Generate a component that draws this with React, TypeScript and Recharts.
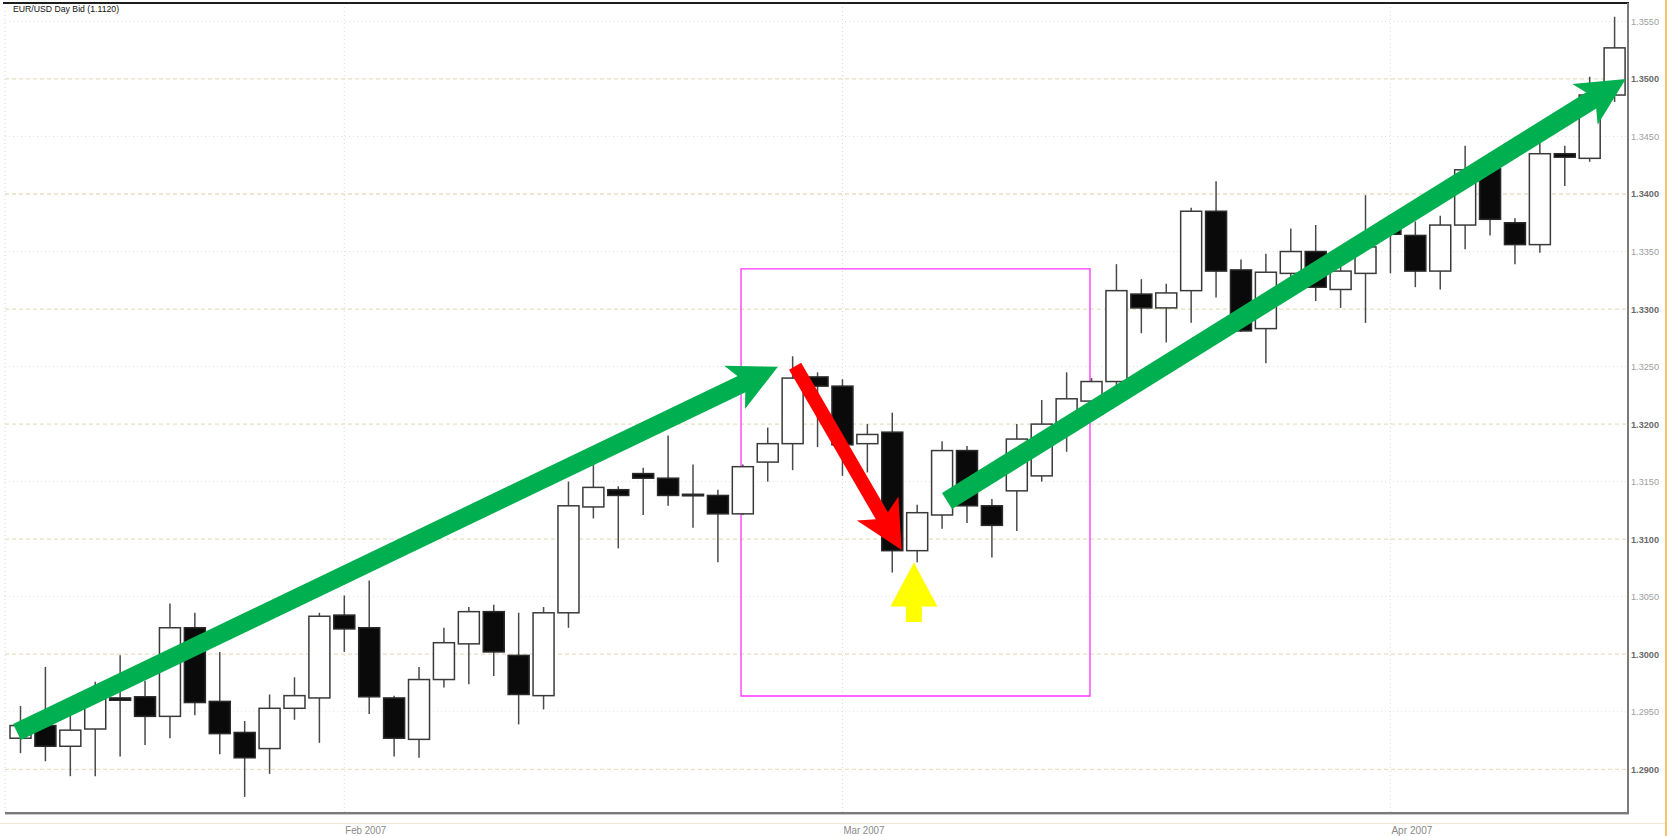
import React from 'react';
import { ComposedChart, Bar, XAxis, YAxis, CartesianGrid, ReferenceLine, ReferenceArea } from 'recharts';

const dates = [
  '2007-01-15','2007-01-16','2007-01-17','2007-01-18','2007-01-19','2007-01-22','2007-01-23','2007-01-24','2007-01-25','2007-01-26','2007-01-29','2007-01-30','2007-01-31',
  '2007-02-01','2007-02-02','2007-02-05','2007-02-06','2007-02-07','2007-02-08','2007-02-09','2007-02-12','2007-02-13','2007-02-14','2007-02-15','2007-02-16','2007-02-19','2007-02-20','2007-02-21','2007-02-22','2007-02-23','2007-02-26','2007-02-27','2007-02-28',
  '2007-03-01','2007-03-02','2007-03-05','2007-03-06','2007-03-07','2007-03-08','2007-03-09','2007-03-12','2007-03-13','2007-03-14','2007-03-15','2007-03-16','2007-03-19','2007-03-20','2007-03-21','2007-03-22','2007-03-23','2007-03-26','2007-03-27','2007-03-28','2007-03-29','2007-03-30',
  '2007-04-02','2007-04-03','2007-04-04','2007-04-05','2007-04-06','2007-04-09','2007-04-10','2007-04-11','2007-04-12','2007-04-13',
];

const opens = [
  1.2927, 1.2938, 1.2920, 1.2935, 1.2962, 1.2963, 1.2946, 1.3023, 1.2959, 1.2932, 1.2918, 1.2953, 1.2962,
  1.3034, 1.3023, 1.2962, 1.2926, 1.2978, 1.3009, 1.3037, 1.2999, 1.2964, 1.3036, 1.3128, 1.3143, 1.3157, 1.3153, 1.3139, 1.3138, 1.3122, 1.3167, 1.3183, 1.3241,
  1.3233, 1.3183, 1.3193, 1.3090, 1.3121, 1.3177, 1.3129, 1.3142, 1.3155, 1.3201, 1.3220, 1.3237, 1.3313, 1.3301, 1.3316, 1.3385, 1.3334, 1.3283, 1.3331, 1.3350, 1.3317, 1.3331,
  1.3376, 1.3364, 1.3333, 1.3373, 1.3422, 1.3375, 1.3356, 1.3435, 1.3431, 1.3486,
];
const highs = [
  1.2955, 1.2989, 1.2948, 1.2976, 1.2999, 1.2977, 1.3044, 1.3036, 1.3002, 1.2942, 1.2965, 1.2980, 1.3036,
  1.3051, 1.3064, 1.2964, 1.2989, 1.3023, 1.3041, 1.3043, 1.3036, 1.3041, 1.3150, 1.3165, 1.3146, 1.3162, 1.3190, 1.3165, 1.3143, 1.3165, 1.3197, 1.3259, 1.3245,
  1.3239, 1.3200, 1.3210, 1.3130, 1.3185, 1.3181, 1.3135, 1.3200, 1.3221, 1.3245, 1.3240, 1.3339, 1.3326, 1.3322, 1.3388, 1.3411, 1.3343, 1.3348, 1.3370, 1.3373, 1.3345, 1.3399,
  1.3381, 1.3376, 1.3381, 1.3442, 1.3435, 1.3379, 1.3450, 1.3442, 1.3502, 1.3554,
];
const lows = [
  1.2914, 1.2907, 1.2894, 1.2894, 1.2911, 1.2921, 1.2927, 1.2947, 1.2913, 1.2876, 1.2896, 1.2943, 1.2923,
  1.3002, 1.2948, 1.2911, 1.2910, 1.2971, 1.2974, 1.2981, 1.2939, 1.2952, 1.3023, 1.3118, 1.3092, 1.3121, 1.3129, 1.3110, 1.3080, 1.3121, 1.3150, 1.3160, 1.3180,
  1.3155, 1.3158, 1.3071, 1.3080, 1.3109, 1.3114, 1.3084, 1.3107, 1.3150, 1.3176, 1.3218, 1.3231, 1.3279, 1.3271, 1.3288, 1.3310, 1.3280, 1.3253, 1.3320, 1.3307, 1.3301, 1.3288,
  1.3331, 1.3319, 1.3317, 1.3352, 1.3364, 1.3339, 1.3349, 1.3407, 1.3428, 1.3480,
];
const closes = [
  1.2938, 1.2920, 1.2934, 1.2961, 1.2960, 1.2946, 1.3023, 1.2958, 1.2931, 1.2910, 1.2953, 1.2964, 1.3033,
  1.3022, 1.2963, 1.2927, 1.2978, 1.3010, 1.3037, 1.3002, 1.2965, 1.3036, 1.3129, 1.3145, 1.3138, 1.3153, 1.3138, 1.3138, 1.3122, 1.3163, 1.3183, 1.3240, 1.3233,
  1.3182, 1.3191, 1.3090, 1.3123, 1.3177, 1.3129, 1.3112, 1.3187, 1.3200, 1.3222, 1.3237, 1.3316, 1.3301, 1.3314, 1.3385, 1.3333, 1.3281, 1.3332, 1.3350, 1.3319, 1.3333, 1.3354,
  1.3365, 1.3333, 1.3373, 1.3421, 1.3378, 1.3356, 1.3435, 1.3432, 1.3486, 1.3527,
];

const monthTicks = ['2007-02-01', '2007-03-01', '2007-04-02'];
const monthLabels = ['Feb 2007', 'Mar 2007', 'Apr 2007'];
const priceTicks = [1.29, 1.295, 1.3, 1.305, 1.31, 1.315, 1.32, 1.325, 1.33, 1.335, 1.34, 1.345, 1.35, 1.355];
const majorTicks = [1.29, 1.3, 1.31, 1.32, 1.33, 1.34, 1.35];
const minorTicks = [1.295, 1.305, 1.315, 1.325, 1.335, 1.345, 1.355];
const priceDomain = [1.2862, 1.3566];

// annotations in data units: [index, price]
const greenArrow1 = [[-0.14, 1.29324], [30.41, 1.32499]];
const redArrow = [[31.1, 1.32503], [35.38, 1.30906]];
const greenArrow2 = [[37.2, 1.31332], [64.45, 1.35]];
const yellowArrow = [[35.87, 1.3028], [35.87, 1.30797]];
const boxX = [28.93, 42.94];
const boxY = [1.29637, 1.33349];

const title = 'EUR/USD Day Bid (1.1120)';

const data = dates.map((d, i) => ({
  date: d,
  idx: i,
  open: opens[i],
  high: highs[i],
  low: lows[i],
  close: closes[i],
}));

const SANS = "'Liberation Sans', Arial, sans-serif";

const CandleShape = (props: any) => {
  const { x, y, width, height, payload } = props;
  if (!payload || height == null || isNaN(y)) return null;
  const { open, close, high, low } = payload;
  const k = height / (high - low);
  const py = (v: number) => y + (high - v) * k;
  const cx = x + width / 2;
  const top = py(Math.max(open, close));
  const bot = py(Math.min(open, close));
  const bull = close > open;
  return (
    <g>
      <line x1={cx} x2={cx} y1={py(high)} y2={py(low)} stroke="#4a4a4a" strokeWidth={1.5} />
      <rect
        x={x}
        y={top}
        width={width}
        height={Math.max(bot - top, 1.5)}
        fill={bull ? '#ffffff' : '#0a0a0a'}
        stroke={bull ? '#3a3a3a' : '#2a2a2a'}
        strokeWidth={1.5}
      />
    </g>
  );
};

const makeArrow = (color: string, shaft: number, L: number, W: number, N: number) => (p: any) => {
  const { x1, y1, x2, y2 } = p;
  if ([x1, y1, x2, y2].some((v) => v == null || isNaN(v))) return <g />;
  const dx = x2 - x1;
  const dy = y2 - y1;
  const len = Math.hypot(dx, dy);
  const ux = dx / len;
  const uy = dy / len;
  const nx = -uy;
  const ny = ux;
  const bx = x2 - ux * L;
  const by = y2 - uy * L;
  const pts = [
    [x2, y2],
    [bx + nx * W, by + ny * W],
    [x2 - ux * N, y2 - uy * N],
    [bx - nx * W, by - ny * W],
  ]
    .map((q) => q.join(','))
    .join(' ');
  const ex = x2 - ux * (L * 0.55);
  const ey = y2 - uy * (L * 0.55);
  return (
    <g>
      <line x1={x1} y1={y1} x2={ex} y2={ey} stroke={color} strokeWidth={shaft} strokeLinecap="butt" />
      <polygon points={pts} fill={color} />
    </g>
  );
};

const YTick = (props: any) => {
  const { x, y, payload } = props;
  const v = payload.value as number;
  const major = majorTicks.some((m) => Math.abs(m - v) < 1e-7);
  return (
    <text
      x={x}
      y={y}
      dy={3.5}
      fontSize={9.6}
      fontFamily={SANS}
      fill={major ? '#6a6a6a' : '#a0a0a0'}
      fontWeight={major ? 700 : 400}
      textAnchor="start"
      textLength={28}
      lengthAdjust="spacingAndGlyphs"
    >
      {v.toFixed(4)}
    </text>
  );
};

const XTick = (props: any) => {
  const { x, y, payload } = props;
  const i = monthTicks.indexOf(payload.value);
  if (i < 0) return null;
  return (
    <text
      x={x + 1}
      y={y}
      dy={20.5}
      fontSize={10}
      fontFamily={SANS}
      fill="#8a8a8a"
      textAnchor="start"
      textLength={41}
      lengthAdjust="spacingAndGlyphs"
    >
      {monthLabels[i]}
    </text>
  );
};

const GREEN = '#00b050';

export default function App() {
  return (
    <div style={{ position: 'absolute', left: 0, top: 0, width: 1679, height: 836, background: '#fff' }}>
      <ComposedChart width={1679} height={836} data={data} margin={{ top: 3, right: 0, bottom: 0, left: 5 }}>
        <CartesianGrid vertical={true} horizontal={false} stroke="#d9d9d9" strokeDasharray="1 3" />
        <CartesianGrid yAxisId="maj" vertical={false} horizontal={true} stroke="#e6dfc4" strokeWidth={1.3} strokeDasharray="4 3" />
        <CartesianGrid yAxisId="min" vertical={false} horizontal={true} stroke="#e2e2dc" strokeDasharray="1 3" />
        <XAxis
          dataKey="date"
          type="category"
          ticks={monthTicks}
          interval={0}
          tick={<XTick />}
          tickSize={0}
          tickMargin={0}
          axisLine={false}
          tickLine={false}
          height={23}
          padding={{ left: 3, right: 1 }}
        />
        <XAxis xAxisId="n" dataKey="idx" type="number" domain={[-0.5, 64.5]} allowDataOverflow hide padding={{ left: 3, right: 1 }} />
        <YAxis
          orientation="right"
          domain={priceDomain}
          allowDataOverflow
          ticks={priceTicks}
          interval={0}
          width={51}
          tick={<YTick />}
          tickSize={0}
          tickMargin={3}
          axisLine={false}
          tickLine={false}
        />
        <YAxis yAxisId="maj" orientation="right" domain={priceDomain} allowDataOverflow ticks={majorTicks} interval={0} hide />
        <YAxis yAxisId="min" orientation="right" domain={priceDomain} allowDataOverflow ticks={minorTicks} interval={0} hide />
        <Bar
          dataKey={(d: any) => [d.low, d.high]}
          barSize={21}
          shape={<CandleShape />}
          isAnimationActive={false}
        />
        <ReferenceArea
          xAxisId="n"
          x1={boxX[0]}
          x2={boxX[1]}
          y1={boxY[0]}
          y2={boxY[1]}
          fill="none"
          fillOpacity={0}
          stroke="#ff33ff"
          strokeWidth={1.3}
        />
        <ReferenceLine
          xAxisId="n"
          segment={[{ x: greenArrow1[0][0], y: greenArrow1[0][1] }, { x: greenArrow1[1][0], y: greenArrow1[1][1] }]}
          shape={makeArrow(GREEN, 18, 48, 24, 36)}
        />
        <ReferenceLine
          xAxisId="n"
          segment={[{ x: redArrow[0][0], y: redArrow[0][1] }, { x: redArrow[1][0], y: redArrow[1][1] }]}
          shape={makeArrow('#ff0000', 14, 48, 24, 36)}
        />
        <ReferenceLine
          xAxisId="n"
          segment={[{ x: greenArrow2[0][0], y: greenArrow2[0][1] }, { x: greenArrow2[1][0], y: greenArrow2[1][1] }]}
          shape={makeArrow(GREEN, 19, 48, 24, 36)}
        />
        <ReferenceLine
          xAxisId="n"
          segment={[{ x: yellowArrow[0][0], y: yellowArrow[0][1] }, { x: yellowArrow[1][0], y: yellowArrow[1][1] }]}
          shape={makeArrow('#ffff00', 16, 44, 23.5, 44)}
        />
      </ComposedChart>
      <div style={{ position: 'absolute', left: 3, top: 2, width: 1626, height: 1.5, background: '#1e1e1e' }} />
      <div style={{ position: 'absolute', left: 1627, top: 3, width: 2, height: 811, background: '#7a7a7a' }} />
      <div style={{ position: 'absolute', left: 5, top: 812, width: 1624, height: 2, background: '#7a7a7a' }} />
      <div style={{ position: 'absolute', left: 5, top: 814, width: 1624, height: 1, background: '#c8c8c8' }} />
      <div style={{ position: 'absolute', left: 0, top: 823, width: 1665, height: 1, background: '#efe9d6' }} />
      <div style={{ position: 'absolute', left: 1665, top: 0, width: 1.5, height: 836, background: '#f6c46a' }} />
      <div
        style={{
          position: 'absolute',
          left: 13,
          top: 3,
          fontFamily: SANS,
          fontSize: 8.7,
          color: '#111',
          whiteSpace: 'nowrap',
          lineHeight: '12px',
        }}
      >
        {title}
      </div>
    </div>
  );
}
